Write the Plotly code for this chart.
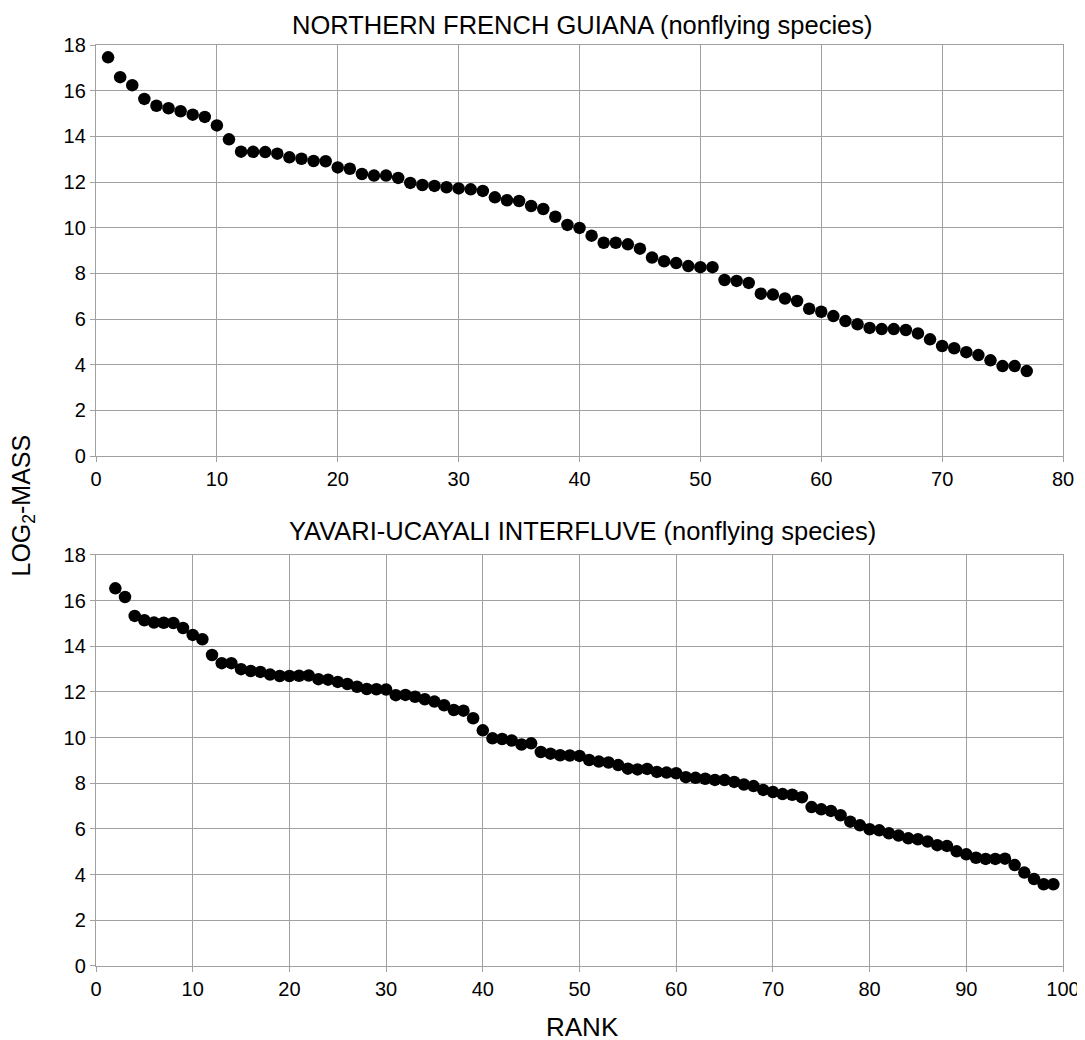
import plotly.graph_objects as go
from plotly.subplots import make_subplots

# Northern French Guiana (nonflying species)
fg_rank = list(range(1, 78))
fg_mass = [17.46, 16.59, 16.24, 15.64, 15.34, 15.23, 15.10, 14.95, 14.85, 14.48,
           13.87, 13.33, 13.32, 13.31, 13.24, 13.08, 13.02, 12.92, 12.91, 12.64,
           12.58, 12.35, 12.28, 12.28, 12.18, 11.96, 11.87, 11.83, 11.77, 11.72,
           11.68, 11.61, 11.33, 11.20, 11.17, 10.95, 10.82, 10.48, 10.12, 9.99,
           9.65, 9.34, 9.34, 9.27, 9.08, 8.69, 8.53, 8.45, 8.32, 8.27,
           8.27, 7.71, 7.67, 7.58, 7.11, 7.07, 6.90, 6.79, 6.45, 6.32,
           6.13, 5.91, 5.77, 5.61, 5.56, 5.56, 5.52, 5.37, 5.11, 4.82,
           4.72, 4.55, 4.42, 4.19, 3.94, 3.94, 3.72]

# Yavari-Ucayali interfluve (nonflying species)
yu_rank = list(range(2, 100))
yu_mass = [16.54, 16.16, 15.33, 15.14, 15.04, 15.03, 15.02, 14.80, 14.50, 14.31,
           13.62, 13.26, 13.26, 13.00, 12.92, 12.88, 12.76, 12.70, 12.70, 12.71,
           12.72, 12.56, 12.54, 12.44, 12.35, 12.23, 12.13, 12.12, 12.11, 11.86,
           11.87, 11.79, 11.68, 11.58, 11.42, 11.21, 11.18, 10.85, 10.32, 9.97,
           9.94, 9.87, 9.70, 9.75, 9.37, 9.30, 9.23, 9.22, 9.20, 9.02,
           8.95, 8.91, 8.80, 8.64, 8.61, 8.63, 8.50, 8.47, 8.44, 8.27,
           8.24, 8.20, 8.15, 8.14, 8.06, 7.95, 7.88, 7.71, 7.62, 7.53,
           7.50, 7.39, 6.96, 6.86, 6.79, 6.60, 6.32, 6.16, 5.99, 5.94,
           5.81, 5.71, 5.59, 5.55, 5.45, 5.29, 5.26, 5.02, 4.89, 4.74,
           4.69, 4.69, 4.70, 4.42, 4.09, 3.81, 3.58, 3.58]

y_ticks = [0, 2, 4, 6, 8, 10, 12, 14, 16, 18]

fig = make_subplots(rows=2, cols=1, vertical_spacing=0.1074)

marker = dict(color="black", size=12.5)
fig.add_trace(go.Scatter(x=fg_rank, y=fg_mass, mode="markers", marker=marker,
                         showlegend=False), row=1, col=1)
fig.add_trace(go.Scatter(x=yu_rank, y=yu_mass, mode="markers", marker=marker,
                         showlegend=False), row=2, col=1)

grid = "#a0a0a0"
axis_common = dict(showgrid=True, gridcolor=grid, gridwidth=1.3, showline=True,
                   linecolor=grid, linewidth=1.3, mirror=True, zeroline=False,
                   ticks="outside", ticklen=5, tickcolor=grid,
                   tickfont=dict(family="Liberation Sans, Arial", size=20, color="black"))

fig.update_xaxes(range=[0, 80], dtick=10, tick0=0, row=1, col=1, **axis_common)
fig.update_xaxes(range=[0, 100], dtick=10, tick0=0, row=2, col=1, **axis_common)
fig.update_yaxes(range=[0, 18], tickvals=y_ticks, row=1, col=1, **axis_common)
fig.update_yaxes(range=[0, 18], tickvals=y_ticks, row=2, col=1, **axis_common)

fig.update_layout(
    width=1085, height=1040,
    margin=dict(l=88, r=30, t=37, b=82),
    paper_bgcolor="white", plot_bgcolor="white",
    font=dict(family="Liberation Sans, Arial", size=20, color="black"),
    annotations=[
        dict(text="NORTHERN FRENCH GUIANA (nonflying species)", x=0.503, y=1.0215,
             xref="paper", yref="paper", xanchor="center", yanchor="middle",
             showarrow=False, font=dict(size=25.5)),
        dict(text="YAVARI-UCAYALI INTERFLUVE (nonflying species)", x=0.503, y=0.472,
             xref="paper", yref="paper", xanchor="center", yanchor="middle",
             showarrow=False, font=dict(size=25.5)),
        dict(text="LOG<sub>2</sub>-MASS", x=0, y=0.5, xref="paper", yref="paper",
             xanchor="center", yanchor="middle", xshift=-74, textangle=-90,
             showarrow=False, font=dict(size=25)),
        dict(text="RANK", x=0.503, y=-0.066, xref="paper", yref="paper",
             xanchor="center", yanchor="middle", showarrow=False,
             font=dict(size=26)),
    ],
)

fig.write_html("out.html")
